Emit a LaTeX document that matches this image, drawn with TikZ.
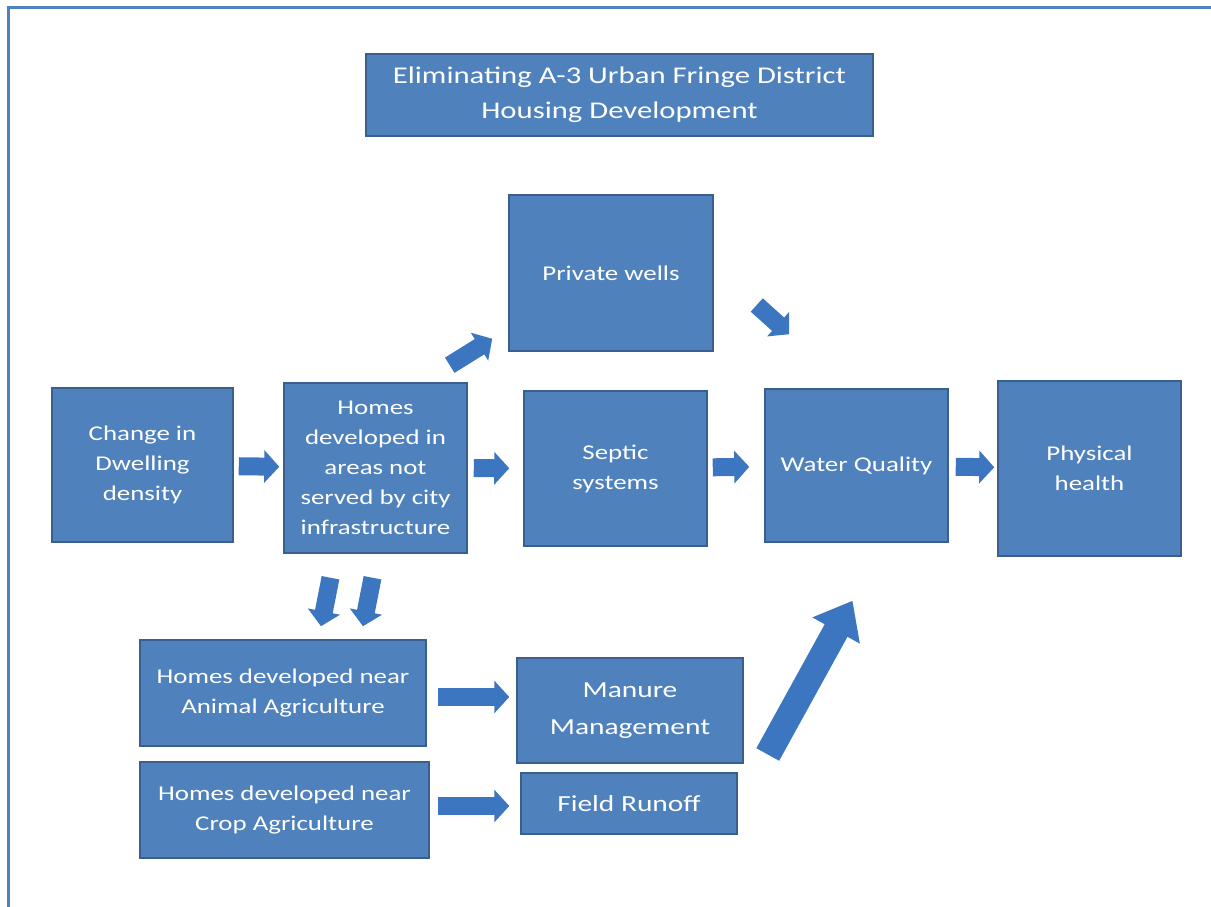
\documentclass[tikz,border=0pt]{standalone}
\usepackage{fontspec}
\setmainfont{Carlito}[FakeStretch=1.28]
\usetikzlibrary{arrows.meta}
\definecolor{boxblue}{HTML}{4F81BD}
\definecolor{boxedge}{HTML}{3A5F8E}
\definecolor{arrowblue}{HTML}{3D76C0}
\tikzset{
  box/.style={draw=boxedge,fill=boxblue,line width=1.5pt,text=white,align=center,inner sep=2pt,
    font=\fontsize{21}{30}\selectfont},
  flow/.style={draw=arrowblue,line width=18pt,-{Triangle[width=32pt,length=15pt]},arrowblue},
  bigflow/.style={draw=arrowblue,line width=26pt,-{Triangle[width=52pt,length=34pt]},arrowblue}
}
\begin{document}
\begin{tikzpicture}[x=1pt,y=-1pt]
  \useasboundingbox (0,0) rectangle (1211,907);
  % page frame
  \draw[boxblue,line width=3pt] (8,907) -- (8,8) -- (1211,8);

  % Define the boxes
  \node[box,minimum width=507pt,minimum height=82pt,font=\fontsize{24}{35}\selectfont] (title) at (619.5,95)
    {Eliminating A-3 Urban Fringe District\\Housing Development};
  \node[box,minimum width=181pt,minimum height=154pt] (change) at (142.5,465) {Change in\\Dwelling\\density};
  \node[box,minimum width=183pt,minimum height=170pt] (homes) at (375.5,468)
    {Homes\\developed in\\areas not\\served by city\\infrastructure};
  \node[box,minimum width=204pt,minimum height=156pt] (wells) at (611,273) {Private wells};
  \node[box,minimum width=183pt,minimum height=155pt] (septic) at (615.5,468.5) {Septic\\systems};
  \node[box,minimum width=183pt,minimum height=153pt] (water) at (856.5,465.5) {Water Quality};
  \node[box,minimum width=183pt,minimum height=175pt] (health) at (1089.5,468.5) {Physical\\health};
  \node[box,minimum width=286pt,minimum height=106pt] (animal) at (283,693)
    {Homes developed near\\Animal Agriculture};
  \node[box,minimum width=226pt,minimum height=105pt,font=\fontsize{23}{37}\selectfont] (manure) at (630,710.5)
    {Manure\\Management};
  \node[box,minimum width=289pt,minimum height=96pt] (crop) at (284.5,810)
    {Homes developed near\\Crop Agriculture};
  \node[box,minimum width=216pt,minimum height=61pt,font=\fontsize{23}{30}\selectfont] (runoff) at (629,803.5) {Field Runoff};

  % Draw the block arrows
  \draw[flow,shorten <=5pt,shorten >=4pt] (change) -- (homes);
  \draw[flow,shorten <=6pt,shorten >=14pt] (homes) -- (septic);
  \draw[flow,shorten <=5pt,shorten >=15pt] (septic) -- (water);
  \draw[flow,shorten <=7pt,shorten >=3pt] (water) -- (health);
  \draw[flow] ([shift={(-18,-17)}]homes.north east) -- ([shift={(-16,-13)}]wells.south west);
  \draw[flow] ([shift={(43,32)}]wells.east) -- ([shift={(25,-54)}]water.north west);
  \draw[flow] ([shift={(-45,24)}]homes.south) -- ([shift={(38,-13)}]animal.north);
  \draw[flow] ([shift={(-3,24)}]homes.south) -- ([shift={(80,-13)}]animal.north);
  \draw[flow] ([shift={(11,4)}]animal.east) -- ([shift={(-7,4)}]animal.east -| manure.west);
  \draw[flow] ([shift={(8,-4)}]crop.east) -- ([shift={(-11,-4)}]crop.east -| runoff.west);
  \draw[bigflow] ([shift={(24,44)}]manure.east) -- ([shift={(-4,58)}]water.south);
\end{tikzpicture}
\end{document}
